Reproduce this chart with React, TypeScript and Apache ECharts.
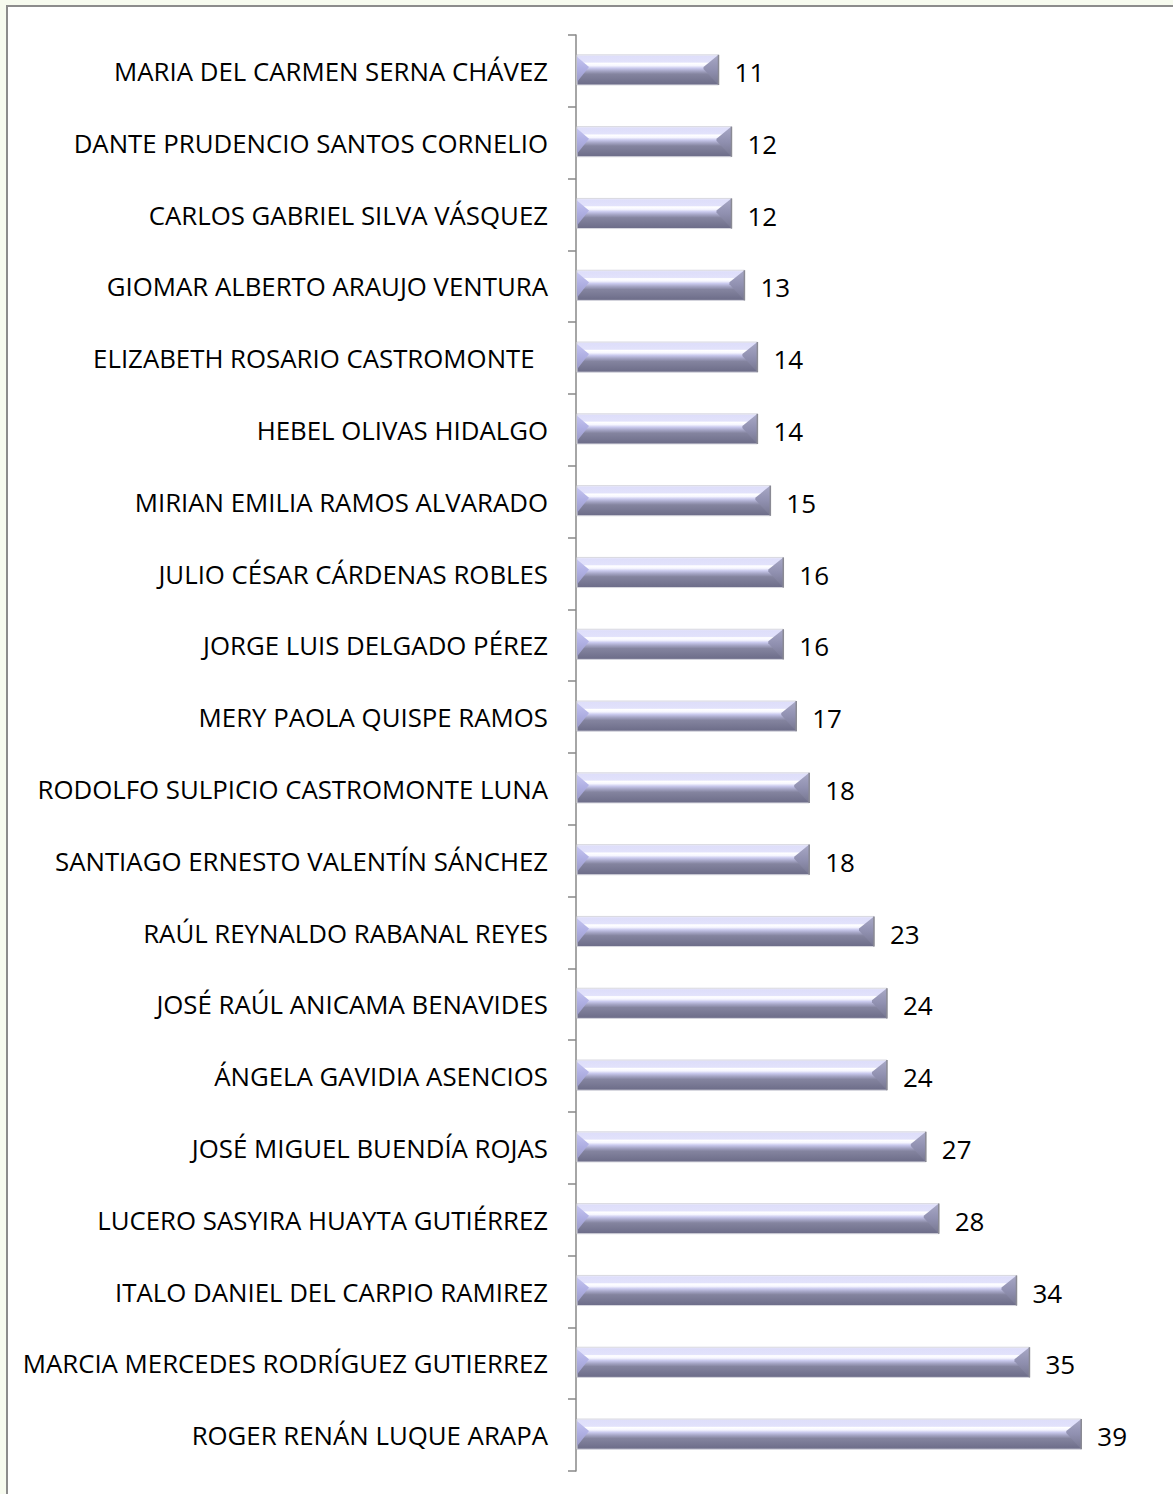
import React, { useEffect, useRef } from "react";
import * as echarts from "echarts";

const names: string[] = [
  "MARIA DEL CARMEN SERNA CHÁVEZ",
  "DANTE PRUDENCIO SANTOS CORNELIO",
  "CARLOS GABRIEL SILVA VÁSQUEZ",
  "GIOMAR ALBERTO ARAUJO VENTURA",
  "ELIZABETH ROSARIO CASTROMONTE ",
  "HEBEL OLIVAS HIDALGO",
  "MIRIAN EMILIA RAMOS ALVARADO",
  "JULIO CÉSAR CÁRDENAS ROBLES",
  "JORGE LUIS DELGADO PÉREZ",
  "MERY PAOLA QUISPE RAMOS",
  "RODOLFO SULPICIO CASTROMONTE LUNA",
  "SANTIAGO ERNESTO VALENTÍN SÁNCHEZ",
  "RAÚL REYNALDO RABANAL REYES",
  "JOSÉ RAÚL ANICAMA BENAVIDES",
  "ÁNGELA GAVIDIA ASENCIOS",
  "JOSÉ MIGUEL BUENDÍA ROJAS",
  "LUCERO SASYIRA HUAYTA GUTIÉRREZ",
  "ITALO DANIEL DEL CARPIO RAMIREZ",
  "MARCIA MERCEDES RODRÍGUEZ GUTIERREZ",
  "ROGER RENÁN LUQUE ARAPA",
];

const values: number[] = [11, 12, 12, 13, 14, 14, 15, 16, 16, 17, 18, 18, 23, 24, 24, 27, 28, 34, 35, 39];

const FONT = "'Open Sans', 'DejaVu Sans', sans-serif";

export default function App() {
  const ref = useRef<HTMLDivElement>(null);

  useEffect(() => {
    document.body.style.margin = "0";
    if (!ref.current) return;
    const chart = echarts.init(ref.current, null, { renderer: "svg" });

    const renderItem = (params: any, api: any) => {
      const v = api.value(0);
      const idx = api.value(1);
      const end = api.coord([v, idx]);
      const start = api.coord([0, idx]);
      const band = api.size([0, 1])[1];
      const h = band * 0.42;
      const x0 = start[0] + 1;
      const x1 = end[0];
      const y0 = end[1] - h / 2 - 1;
      const y1 = y0 + h;
      const w = x1 - x0;
      const ym = y0 + h * 0.4;
      return {
        type: "group",
        children: [
          {
            type: "rect",
            shape: { x: x0, y: y0, width: w, height: h },
            style: {
              fill: new echarts.graphic.LinearGradient(0, 0, 0, 1, [
                { offset: 0, color: "#f0f0fa" },
                { offset: 0.05, color: "#dedefa" },
                { offset: 0.24, color: "#e2e2fb" },
                { offset: 0.28, color: "#ffffff" },
                { offset: 0.36, color: "#f6f6ff" },
                { offset: 0.44, color: "#cacaee" },
                { offset: 0.54, color: "#a4a4c4" },
                { offset: 0.64, color: "#84849f" },
                { offset: 1, color: "#6c6c88" },
              ]),
              stroke: "#d8d8e0",
              lineWidth: 1,
            },
          },
          {
            type: "polygon",
            shape: {
              points: [
                [x0, y0 + 2],
                [x0 + 12, ym],
                [x0, y1 - 3],
              ],
            },
            style: {
              fill: new echarts.graphic.LinearGradient(0, 0, 0, 1, [
                { offset: 0, color: "#c4c4f0" },
                { offset: 0.5, color: "#aeaee2" },
                { offset: 1, color: "#9c9cc8" },
              ]),
            },
          },
          {
            type: "polygon",
            shape: {
              points: [
                [x1, y0],
                [x1 - 15, ym],
                [x1 - 15, ym + 2],
                [x1, y1],
              ],
            },
            style: {
              fill: new echarts.graphic.LinearGradient(0, 0, 0, 1, [
                { offset: 0, color: "#a8a8c6" },
                { offset: 0.5, color: "#9090b0" },
                { offset: 1, color: "#76768f" },
              ]),
            },
          },
          {
            type: "line",
            shape: { x1: x1, y1: y0, x2: x1, y2: y1 },
            style: { stroke: "#8a8a94", lineWidth: 1.5 },
          },
          {
            type: "text",
            x: x1 + 16,
            y: end[1] + 1,
            style: {
              text: String(v),
              fill: "#000000",
              font: `26px ${FONT}`,
              verticalAlign: "middle",
              align: "left",
            },
          },
        ],
      };
    };

    chart.setOption({
      animation: false,
      backgroundColor: "transparent",
      grid: { left: 576, top: 35, height: 1436, width: 583 },
      xAxis: {
        type: "value",
        min: 0,
        max: 45,
        show: false,
        splitLine: { show: false },
      },
      yAxis: {
        type: "category",
        inverse: true,
        data: names,
        axisLine: { show: true, lineStyle: { color: "#888888", width: 1.5 } },
        axisTick: { show: true, length: 8, lineStyle: { color: "#888888", width: 1.5 } },
        axisLabel: {
          margin: 28,
          color: "#000000",
          fontFamily: FONT,
          fontSize: 25.8,
          formatter: (s: string) => s.replace(/ $/, "\u00a0\u00a0"),
        },
      },
      series: [
        {
          type: "custom",
          renderItem,
          encode: { x: 0, y: 1 },
          data: values.map((v, i) => [v, i]),
        },
      ],
    });
    return () => chart.dispose();
  }, []);

  return (
    <div style={{ position: "relative", width: 1173, height: 1494, overflow: "hidden", background: "#f7fbef" }}>
      <div
        style={{
          position: "absolute",
          left: 6,
          top: 5,
          width: 1200,
          height: 1520,
          background: "#ffffff",
          borderLeft: "2px solid #8c8c8c",
          borderTop: "2px solid #8c8c8c",
        }}
      />
      <div ref={ref} style={{ position: "absolute", left: 0, top: 0, width: 1173, height: 1494 }} />
    </div>
  );
}
